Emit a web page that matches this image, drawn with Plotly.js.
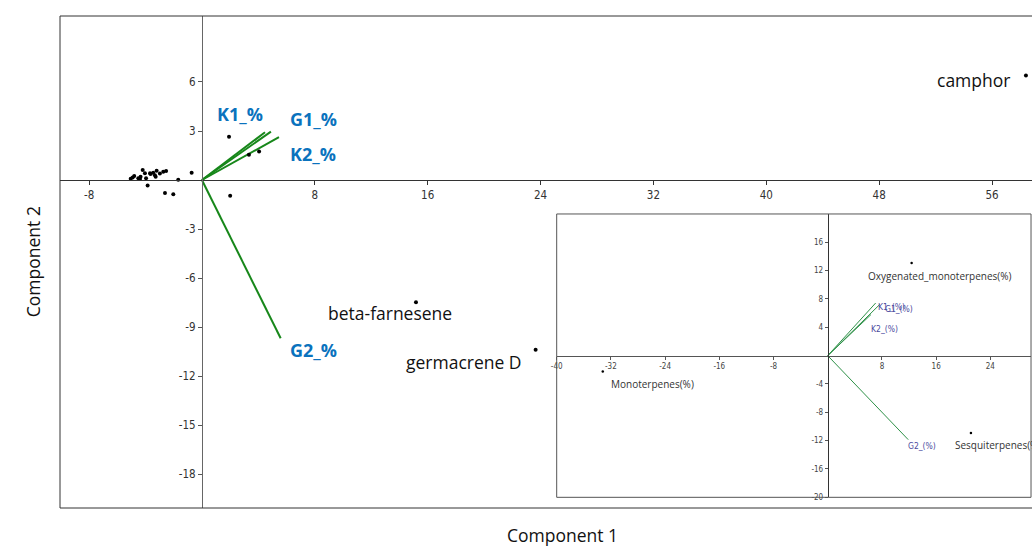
<!DOCTYPE html>
<html>
<head>
<meta charset="utf-8">
<script src="https://cdn.plot.ly/plotly-3.0.1.min.js"></script>
<style>
  html, body { margin: 0; padding: 0; background: #ffffff; }
  #chart { width: 1032px; height: 546px; }
</style>
</head>
<body>
<div id="chart"></div>
<script>
// ---------- main biplot data ----------
const scoreX = [-5.05, -4.91, -4.8, -4.51, -4.39, -4.35, -4.2, -4.04, -3.96, -3.85, -3.68, -3.64, -3.45, -3.33, -3.28, -3.21, -2.98, -2.74, -2.54, -2.62, -2.03, -1.68, -0.73, 1.92, 3.33, 4.05, 2.0];
const scoreY = [0.08, 0.16, 0.25, 0.1, 0.06, 0.2, 0.61, 0.41, 0.1, -0.33, 0.41, 0.37, 0.45, 0.29, 0.2, 0.57, 0.4, 0.5, 0.55, -0.8, -0.88, 0.02, 0.45, 2.65, 1.55, 1.75, -0.96];

const namedLabels = ['beta-farnesene', 'germacrene D', 'camphor'];
const namedX = [15.17, 23.65, 58.4];
const namedY = [-7.49, -10.39, 6.39];

const loadNames = ['K1_%', 'G1_%', 'K2_%', 'G2_%'];
const loadX = [4.47, 4.89, 5.46, 5.58];
const loadY = [2.92, 2.96, 2.62, -9.69];

const mainXTicks = [-8, 8, 16, 24, 32, 40, 48, 56];
const mainYTicks = [6, 3, -3, -6, -9, -12, -15, -18];

// ---------- inset biplot data ----------
const insetNames = ['Oxygenated_monoterpenes(%)', 'Monoterpenes(%)', 'Sesquiterpenes(%)'];
const insetX = [12.38, -33.2, 21.13];
const insetY = [13.08, -2.22, -10.93];

const insetLoadNames = ['K1_(%)', 'G1_(%)', 'K2_(%)', 'G2_(%)'];
const insetLoadX = [7.07, 7.7, 6.38, 11.88];
const insetLoadY = [7.43, 7.25, 5.8, -11.86];

const insetXTicks = [-40, -32, -24, -16, -8, 8, 16, 24];
const insetYTicks = [16, 12, 8, 4, -4, -8, -12, -16, -20];

// ---------- styles (pixel offsets of labels) ----------
const namedShift = [[-26, -11], [-72, -12], [-52, -4]];
const loadShift = [[-25, 18], [43, 13], [34, -17], [33, -12]];
const insetShift = [[28, -13], [50, -13], [27, -12]];
const insetLoadShift = [[16, -4], [19, -5], [14, -14], [14, -6]];

const narrow = '"Liberation Sans Narrow", "DejaVu Sans Condensed", "Liberation Sans", sans-serif';
const tickFont = {family: narrow, size: 11.5, color: '#333'};
const insetTickFont = {family: narrow, size: 8, color: '#444'};
const labelFamily = '"Open Sans", "Noto Sans", sans-serif';
const hy = v => String(v).replace('\u2212', '-');

const traces = [];
loadNames.forEach((n, i) => {
  traces.push({
    type: 'scatter', mode: 'lines', x: [0, loadX[i]], y: [0, loadY[i]],
    line: {color: '#17871a', width: 2}, hoverinfo: 'skip', showlegend: false,
    xaxis: 'x', yaxis: 'y'
  });
});
traces.push({
  type: 'scatter', mode: 'markers', x: scoreX, y: scoreY,
  marker: {color: '#000', size: 4}, showlegend: false, xaxis: 'x', yaxis: 'y', cliponaxis: false
});
traces.push({
  type: 'scatter', mode: 'markers', x: namedX, y: namedY, text: namedLabels,
  marker: {color: '#000', size: 4}, showlegend: false, xaxis: 'x', yaxis: 'y', cliponaxis: false
});
insetLoadNames.forEach((n, i) => {
  traces.push({
    type: 'scatter', mode: 'lines', x: [0, insetLoadX[i]], y: [0, insetLoadY[i]],
    line: {color: '#2e9148', width: 1}, hoverinfo: 'skip', showlegend: false,
    xaxis: 'x2', yaxis: 'y2'
  });
});
traces.push({
  type: 'scatter', mode: 'markers', x: insetX, y: insetY, text: insetNames,
  marker: {color: '#000', size: 2.5}, showlegend: false, xaxis: 'x2', yaxis: 'y2'
});

const annotations = [];
namedLabels.forEach((t, i) => annotations.push({
  x: namedX[i], y: namedY[i], xref: 'x', yref: 'y', text: t, showarrow: false,
  xshift: namedShift[i][0], yshift: namedShift[i][1],
  font: {family: labelFamily, size: 17.5, color: '#111'}
}));
loadNames.forEach((t, i) => annotations.push({
  x: loadX[i], y: loadY[i], xref: 'x', yref: 'y', text: '<b>' + t + '</b>', showarrow: false,
  xshift: loadShift[i][0], yshift: loadShift[i][1],
  font: {family: labelFamily, size: 18, color: '#0a72bd'}
}));
insetNames.forEach((t, i) => annotations.push({
  x: insetX[i], y: insetY[i], xref: 'x2', yref: 'y2', text: t, showarrow: false,
  xshift: insetShift[i][0], yshift: insetShift[i][1],
  font: {family: labelFamily, size: 10, color: '#333'}
}));
insetLoadNames.forEach((t, i) => annotations.push({
  x: insetLoadX[i], y: insetLoadY[i], xref: 'x2', yref: 'y2', text: t, showarrow: false,
  xshift: insetLoadShift[i][0], yshift: insetLoadShift[i][1],
  font: {family: narrow, size: 8.5, color: '#4b4b9e'}
}));
annotations.push({
  x: 0.517, y: -0.0549, xref: 'paper', yref: 'paper', yanchor: 'middle', text: 'Component 1', showarrow: false,
  font: {family: labelFamily, size: 17.5, color: '#111'}
});
annotations.push({
  x: -0.042, y: 0.5, xref: 'paper', yref: 'paper', text: 'Component 2', showarrow: false, textangle: -90,
  font: {family: labelFamily, size: 17.5, color: '#111'}
});

const mainXRange = [-10.06, 58.83];
const mainYRange = [-20.08, 10.04];
const insetXRange = [-40, 30];
const insetYRange = [-20, 20];
const insetDomX = [0.511, 0.999];
const insetDomY = [0.0217, 0.5976];

const layout = {
  width: 1032, height: 546,
  margin: {l: 60, r: 0, t: 16, b: 38},
  paper_bgcolor: '#fff', plot_bgcolor: '#fff',
  showlegend: false,
  xaxis: {
    domain: [0, 1], range: mainXRange, anchor: 'free',
    position: (0 - mainYRange[0]) / (mainYRange[1] - mainYRange[0]),
    tickmode: 'array', tickvals: mainXTicks, ticktext: mainXTicks.map(hy),
    ticks: 'outside', ticklen: 4, tickcolor: '#333',
    showline: true, linecolor: '#333', linewidth: 1.3, showgrid: false, zeroline: false,
    tickfont: tickFont
  },
  yaxis: {
    domain: [0, 1], range: mainYRange, anchor: 'free',
    position: (0 - mainXRange[0]) / (mainXRange[1] - mainXRange[0]),
    tickmode: 'array', tickvals: mainYTicks, ticktext: mainYTicks.map(hy),
    ticks: 'outside', ticklen: 4, tickcolor: '#555',
    showline: true, linecolor: '#666', linewidth: 1.3, showgrid: false, zeroline: false,
    tickfont: tickFont
  },
  xaxis2: {
    domain: insetDomX, range: insetXRange, anchor: 'free',
    position: insetDomY[0] + (0 - insetYRange[0]) / (insetYRange[1] - insetYRange[0]) * (insetDomY[1] - insetDomY[0]),
    tickmode: 'array', tickvals: insetXTicks, ticktext: insetXTicks.map(hy),
    ticks: 'outside', ticklen: 3, tickcolor: '#555',
    showline: true, linecolor: '#555', linewidth: 1, showgrid: false, zeroline: false,
    tickfont: insetTickFont
  },
  yaxis2: {
    domain: insetDomY, range: insetYRange, anchor: 'free',
    position: insetDomX[0] + (0 - insetXRange[0]) / (insetXRange[1] - insetXRange[0]) * (insetDomX[1] - insetDomX[0]),
    tickmode: 'array', tickvals: insetYTicks, ticktext: insetYTicks.map(hy),
    ticks: 'outside', ticklen: 3, tickcolor: '#555',
    showline: true, linecolor: '#333', linewidth: 1, showgrid: false, zeroline: false,
    tickfont: insetTickFont
  },
  shapes: [
    {type: 'line', xref: 'paper', yref: 'paper', x0: 0, x1: 0, y0: 0, y1: 1, line: {color: '#333', width: 1}},
    {type: 'line', xref: 'paper', yref: 'paper', x0: 0, x1: 1, y0: 1, y1: 1, line: {color: '#333', width: 1}},
    {type: 'line', xref: 'paper', yref: 'paper', x0: 0, x1: 1, y0: 0, y1: 0, line: {color: '#333', width: 1}},
    {type: 'rect', xref: 'paper', yref: 'paper', x0: insetDomX[0], x1: insetDomX[1], y0: insetDomY[0], y1: insetDomY[1],
     line: {color: '#555', width: 1}, fillcolor: 'rgba(0,0,0,0)'}
  ],
  annotations: annotations
};

Plotly.newPlot('chart', traces, layout, {displayModeBar: false, staticPlot: true});
</script>
</body>
</html>
